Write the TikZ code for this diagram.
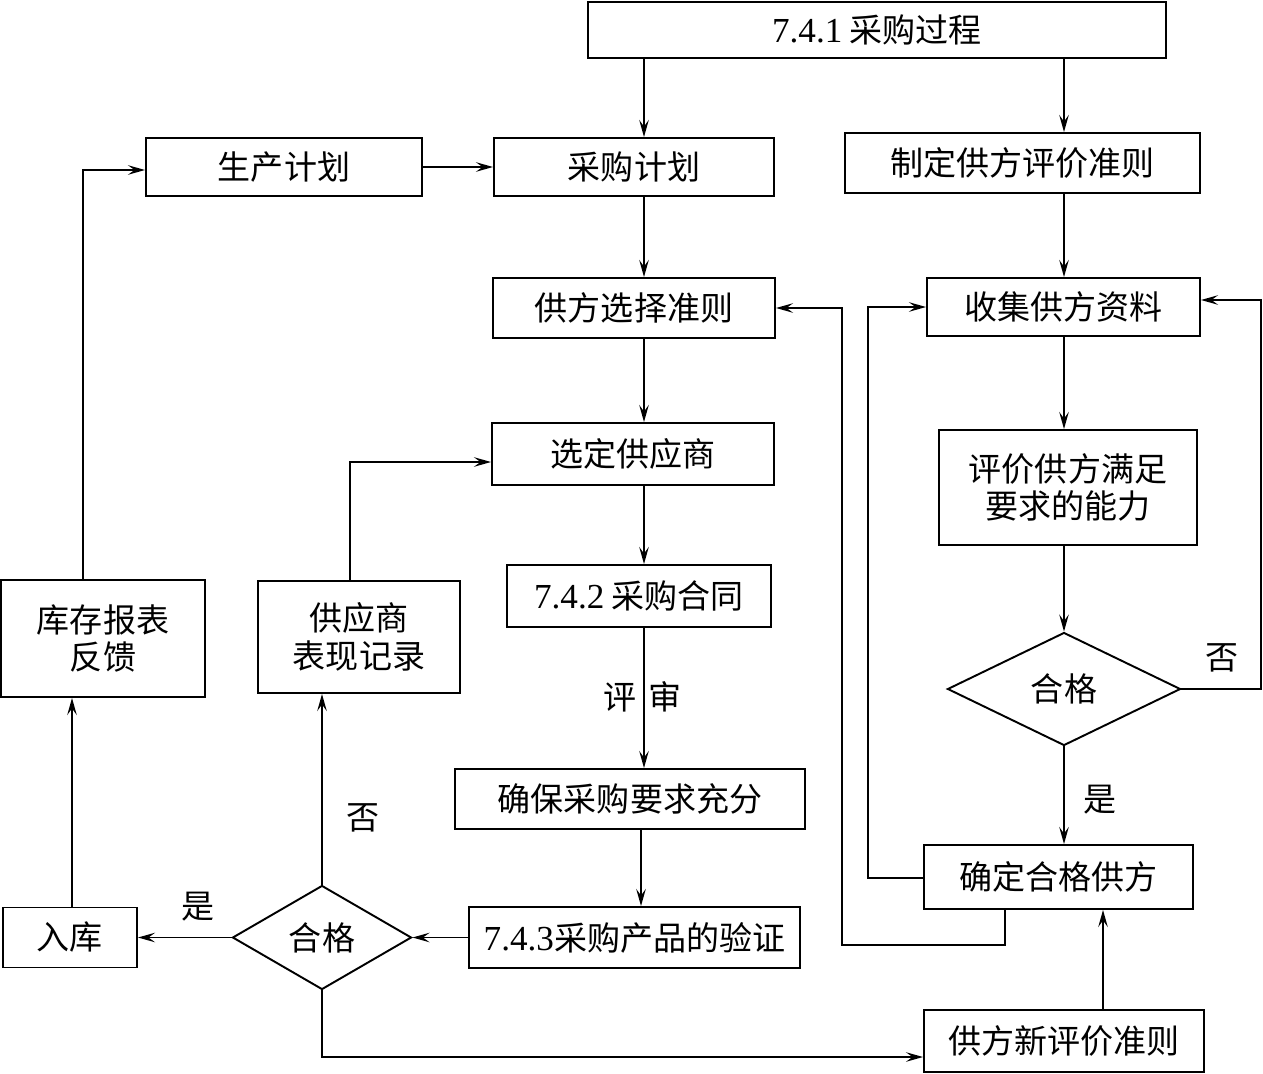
\documentclass[tikz,border=0pt]{standalone}
\usepackage{fontspec}
\setmainfont{Liberation Serif}
\newfontfamily\cjk{Noto Sans CJK SC}
\usetikzlibrary{arrows.meta,shapes.geometric,calc}
\begin{document}
\begin{tikzpicture}[
  every node/.style={font=\cjk\fontsize{18.8}{21.5}\selectfont},
  box/.style={draw,line width=1.1pt,rectangle,inner sep=0pt,align=center},
  dia/.style={draw,line width=1.1pt,diamond,inner sep=0pt},
  arr/.style={line width=1.1pt,-{Stealth[length=3.4mm,width=1.9mm,inset=1.3mm]}},
  ln/.style={line width=1.1pt},
  lbl/.style={inner sep=0pt}
]
\useasboundingbox (0,0) rectangle (25.26,-21.48);
% boxes
\node[box,minimum width=11.56cm,minimum height=1.12cm] (top) at (17.54,-0.60) {{\rmfamily\fontsize{20}{22}\selectfont 7.4.1} 采购过程};
\node[box,minimum width=5.52cm,minimum height=1.16cm] (sc) at (5.68,-3.34) {生产计划};
\node[box,minimum width=5.6cm,minimum height=1.16cm] (cj) at (12.68,-3.34) {采购计划};
\node[box,minimum width=7.1cm,minimum height=1.2cm] (zd) at (20.45,-3.26) {制定供方评价准则};
\node[box,minimum width=5.64cm,minimum height=1.2cm] (xz) at (12.68,-6.16) {供方选择准则};
\node[box,minimum width=5.46cm,minimum height=1.16cm] (sj) at (21.27,-6.14) {收集供方资料};
\node[box,minimum width=5.64cm,minimum height=1.24cm] (xd) at (12.66,-9.08) {选定供应商};
\node[box,minimum width=5.16cm,minimum height=2.3cm] (pj) at (21.36,-9.75) {评价供方满足\\要求的能力};
\node[box,minimum width=5.28cm,minimum height=1.24cm] (ht) at (12.78,-11.92) {{\rmfamily\fontsize{20}{22}\selectfont 7.4.2} 采购合同};
\node[box,minimum width=4.08cm,minimum height=2.34cm] (kc) at (2.06,-12.77) {库存报表\\反馈};
\node[box,minimum width=4.04cm,minimum height=2.24cm] (bx) at (7.18,-12.74) {供应商\\表现记录};
\node[dia,minimum width=4.66cm,minimum height=2.26cm] (dR) at (21.28,-13.78) {合格};
\node[box,minimum width=7.0cm,minimum height=1.2cm] (qb) at (12.6,-15.98) {确保采购要求充分};
\node[box,minimum width=5.38cm,minimum height=1.28cm] (qh) at (21.17,-17.54) {确定合格供方};
\node[box,minimum width=2.68cm,minimum height=1.2cm] (rk) at (1.4,-18.75) {入库};
\node[dia,minimum width=3.58cm,minimum height=2.08cm] (dL) at (6.44,-18.75) {合格};
\node[box,minimum width=6.62cm,minimum height=1.22cm] (yz) at (12.69,-18.75) {{\rmfamily\fontsize{20}{22}\selectfont 7.4.3}采购产品的验证};
\node[box,minimum width=5.6cm,minimum height=1.24cm] (xp) at (21.28,-20.82) {供方新评价准则};
% column coordinates
\coordinate (cA) at (12.88,0);
\coordinate (cB) at (21.28,0);
\coordinate (cK) at (1.44,0);
\coordinate (cK2) at (1.66,0);
\coordinate (cBX) at (7.0,0);
\coordinate (cN) at (22.06,0);
\coordinate (cQ) at (20.1,0);
\coordinate (j1) at (16.84,-18.9);
\coordinate (j2) at (17.36,-17.56);
\coordinate (j3) at (25.22,-13.78);
% connectors
\draw[arr] (top.south -| cA) -- (cj.north -| cA);
\draw[arr] (top.south -| cB) -- (zd.north -| cB);
\draw[arr] (sc.east) -- (cj.west);
\draw[arr] (cj.south -| cA) -- (xz.north -| cA);
\draw[arr] (xz.south -| cA) -- (xd.north -| cA);
\draw[arr] (xd.south -| cA) -- (ht.north -| cA);
\draw[arr] (ht.south -| cA) -- (qb.north -| cA);
\draw[arr] ([xshift=0.22cm]qb.south) -- ([xshift=0.22cm]qb.south |- yz.north);
\draw[arr] (yz.west) -- (dL.east);
\draw[arr] (dL.west) -- (rk.east);
\draw[arr] (rk.north -| cK) -- (kc.south -| cK);
\draw[arr] (kc.north -| cK2) |- ([yshift=-0.06cm]sc.west);
\draw[arr] (dL.north) -- (bx.south -| dL.north);
\draw[arr] (bx.north -| cBX) |- ([yshift=-0.16cm]xd.west);
\draw[arr] (dL.south) |- ([yshift=-0.32cm]xp.west);
\draw[arr] (xp.north -| cN) -- (qh.south -| cN);
\draw[arr] (qh.south -| cQ) |- (j1) |- (xz.east);
\draw[arr] ([yshift=-0.02cm]qh.west) -| (j2) |- (sj.west);
\draw[arr] (zd.south -| cB) -- (sj.north -| cB);
\draw[arr] (sj.south -| cB) -- (pj.north -| cB);
\draw[arr] (pj.south -| dR.north) -- (dR.north);
\draw[arr] (dR.south) -- (qh.north -| dR.south);
\draw[arr] (dR.east) -- (j3) |- ([yshift=0.14cm]sj.east);
% labels
\node[lbl] (l1) at (24.44,-13.16) {否};
\node[lbl] (l2) at (22.0,-16.0) {是};
\node[lbl] (l3) at (7.26,-16.36) {否};
\node[lbl] (l4) at (3.96,-18.14) {是};
\node[lbl] (l5) at (12.4,-13.94) {评};
\node[lbl] (l6) at (13.3,-13.94) {审};
\end{tikzpicture}
\end{document}
